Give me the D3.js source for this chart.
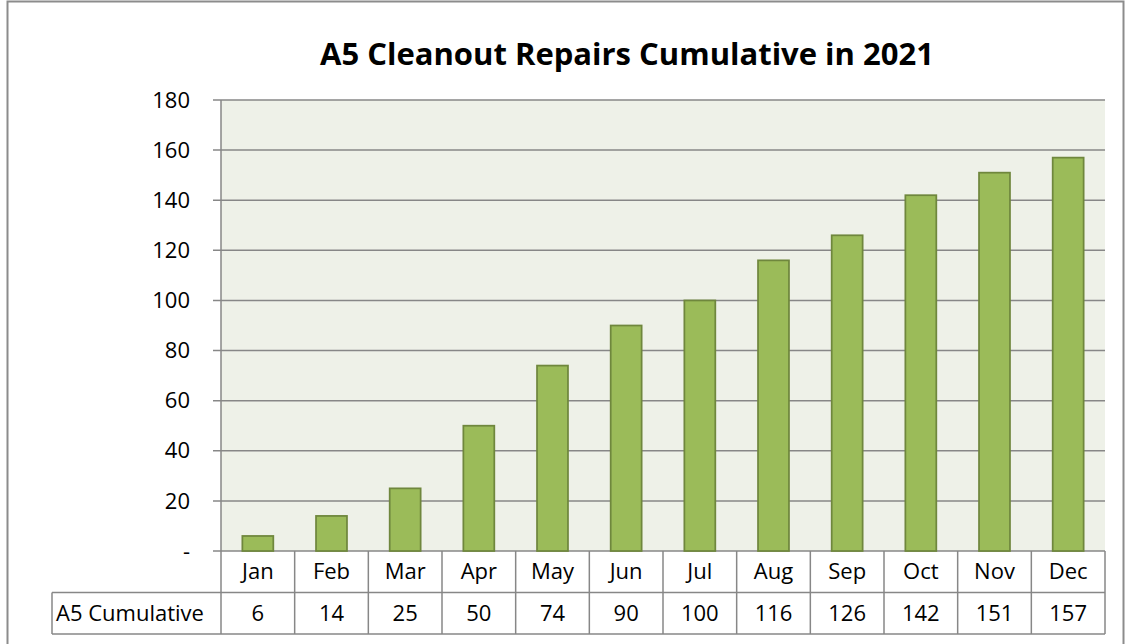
<!DOCTYPE html>
<html>
<head>
<meta charset="utf-8">
<script src="https://cdn.jsdelivr.net/npm/d3@7"></script>
<style>
  body { margin: 0; background: #fff; }
  svg { display: block; font-family: "Open Sans", "Liberation Sans", sans-serif; }
</style>
</head>
<body>
<svg id="chart" width="1125" height="644"></svg>
<script>
const months = ["Jan","Feb","Mar","Apr","May","Jun","Jul","Aug","Sep","Oct","Nov","Dec"];
const cumulative = [6,14,25,50,74,90,100,116,126,142,151,157];
const yTicks = [0,20,40,60,80,100,120,140,160,180];
const seriesName = "A5 Cumulative";
const title = "A5 Cleanout Repairs Cumulative in 2021";

const svg = d3.select("#chart");
const margin = {top:100, left:221, right:20, bottom:93};
const width = 1125, height = 644;
const rowH = 41.5;
const fs = 22;

// outer frame
svg.append("rect")
    .attr("x", 7.5).attr("y", 1.5)
    .attr("width", 1116).attr("height", 650)
    .attr("fill", "#fff").attr("stroke", "#8c8c8c").attr("stroke-width", 2);

const x = d3.scaleBand()
    .domain(months)
    .range([margin.left, width - margin.right]);

const y = d3.scaleLinear()
    .domain([0, 180])
    .range([height - margin.bottom, margin.top]);

// plot background
svg.append("rect")
    .attr("x", margin.left).attr("y", y(180))
    .attr("width", x.range()[1] - margin.left)
    .attr("height", y(0) - y(180))
    .attr("fill", "#eef1e8");

// gridlines + tick labels
const grid = svg.append("g");
grid.selectAll("line")
    .data(yTicks)
    .enter().append("line")
    .attr("x1", margin.left - 8)
    .attr("x2", x.range()[1])
    .attr("y1", d => y(d)).attr("y2", d => y(d))
    .attr("stroke", "#878787").attr("stroke-width", 1.5);

grid.selectAll("text")
    .data(yTicks)
    .enter().append("text")
    .attr("x", 190)
    .attr("y", d => y(d))
    .attr("dy", "0.35em")
    .attr("text-anchor", "end")
    .attr("font-size", fs)
    .attr("fill", "#000")
    .text(d => d === 0 ? "-" : d);

// bars
const barW = x.bandwidth() * 0.42;
svg.append("g").selectAll("rect")
    .data(cumulative)
    .enter().append("rect")
    .attr("x", (d,i) => x(months[i]) + (x.bandwidth() - barW) / 2)
    .attr("y", d => y(d))
    .attr("width", barW)
    .attr("height", d => y(0) - y(d))
    .attr("fill", "#9bbb59")
    .attr("stroke", "#6f873d")
    .attr("stroke-width", 1.75);

// data table
const t0 = y(0);
const tbl = svg.append("g").attr("fill", "none").attr("stroke", "#878787").attr("stroke-width", 1.5);
tbl.selectAll("line.v")
    .data(months.concat(["_end"]))
    .enter().append("line")
    .attr("x1", (d,i) => i < months.length ? x(d) : x.range()[1])
    .attr("x2", (d,i) => i < months.length ? x(d) : x.range()[1])
    .attr("y1", (d,i) => i === 0 ? y(180) : t0)
    .attr("y2", t0 + 2 * rowH);
tbl.append("line").attr("x1", margin.left).attr("x2", x.range()[1]).attr("y1", t0 + rowH).attr("y2", t0 + rowH);
tbl.append("line").attr("x1", 52).attr("x2", x.range()[1]).attr("y1", t0 + 2 * rowH).attr("y2", t0 + 2 * rowH);
tbl.append("line").attr("x1", 52).attr("x2", margin.left).attr("y1", t0 + rowH).attr("y2", t0 + rowH);
tbl.append("line").attr("x1", 52).attr("x2", 52).attr("y1", t0 + rowH).attr("y2", t0 + 2 * rowH);

const cells = svg.append("g").attr("font-size", fs).attr("fill", "#000").attr("text-anchor", "middle");
cells.selectAll("text.m")
    .data(months)
    .enter().append("text")
    .attr("x", d => x(d) + x.bandwidth() / 2)
    .attr("y", t0 + rowH / 2)
    .attr("dy", "0.35em")
    .text(d => d);
cells.selectAll("text.v")
    .data(cumulative)
    .enter().append("text")
    .attr("x", (d,i) => x(months[i]) + x.bandwidth() / 2)
    .attr("y", t0 + rowH * 1.5)
    .attr("dy", "0.35em")
    .text(d => d);
cells.append("text")
    .attr("x", 56).attr("text-anchor", "start")
    .attr("y", t0 + rowH * 1.5)
    .attr("dy", "0.35em")
    .text(seriesName);

// title
svg.append("text")
    .attr("x", 627).attr("y", 65)
    .attr("text-anchor", "middle")
    .attr("font-size", 31)
    .attr("font-weight", "bold")
    .attr("fill", "#000")
    .text(title);
</script>
</body>
</html>
